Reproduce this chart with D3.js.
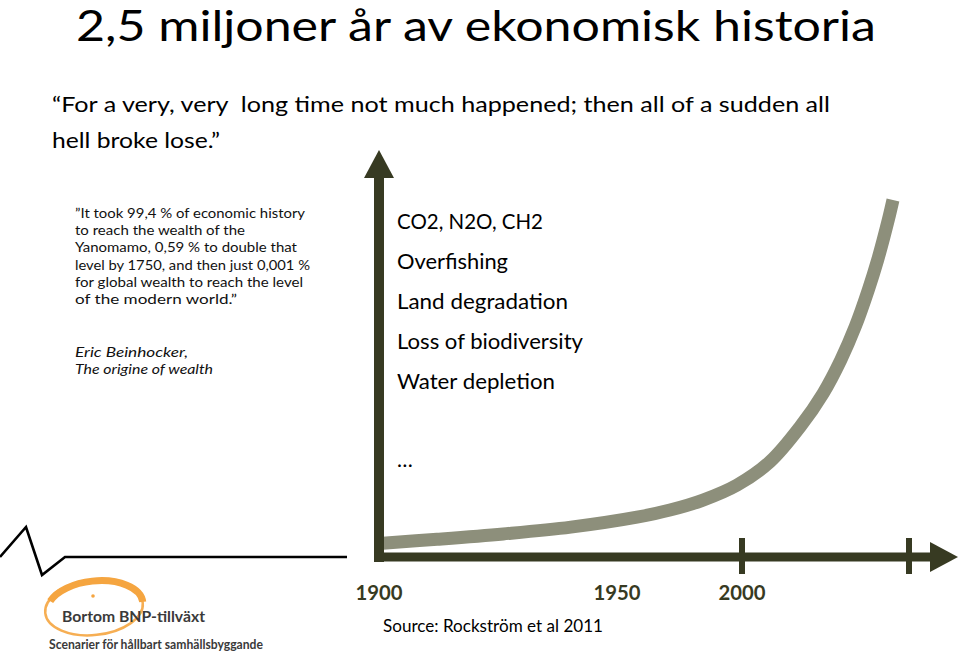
<!DOCTYPE html>
<html>
<head>
<meta charset="utf-8">
<script src="https://cdn.jsdelivr.net/npm/d3@7"></script>
<style>
  html, body { margin: 0; padding: 0; background: #ffffff; }
  svg { display: block; }
  text { font-family: Lato, "Open Sans", "Noto Sans", sans-serif; white-space: pre; }
</style>
</head>
<body>
<svg id="chart" width="960" height="653"></svg>
<script>
// ---------- data ----------
const title = "2,5 miljoner år av ekonomisk historia";
const subtitleLines = [
  "\u201CFor a very, very  long time not much happened; then all of a sudden all",
  "hell broke lose.\u201D"
];
const quoteLines = [
  "\u201DIt took 99,4 % of economic history",
  "to reach the wealth of the",
  "Yanomamo, 0,59 % to double that",
  "level by 1750, and then just 0,001 %",
  "for global wealth to reach the level",
  "of the modern world.\u201D"
];
const quoteAuthor = ["Eric Beinhocker,", "The origine of wealth"];
const impacts = ["CO2, N2O, CH2", "Overfishing", "Land degradation", "Loss of biodiversity", "Water depletion"];
const ellipsis = "\u2026";
const sourceText = "Source: Rockstr\u00F6m et al 2011";
const logoTitle = "Bortom BNP-tillv\u00E4xt";
const logoSub = "Scenarier f\u00F6r h\u00E5llbart samh\u00E4llsbyggande";

// axis (schematic, non-linear year axis)
const axisYears = [1900, 1950, 2000, 2050];
const tickLabels = ["1900", "1950", "2000"];
const tickMarkYears = [2000, 2050];

// the growth curve (schematic index, 0-100)
const curveYears  = [1900.8, 1912.2, 1926.1, 1940.3, 1958.0, 1971.2, 1984.4, 1998.0, 2008.4, 2017.4, 2024.3, 2029.6, 2033.9, 2037.8, 2040.6, 2043.8, 2045.2];
const curveValues = [3.6, 4.7, 6.2, 8.1, 10.9, 12.9, 15.7, 19.9, 26.5, 36.3, 45.7, 55.1, 64.4, 74.7, 83.1, 94.4, 100];

// ---------- drawing ----------
const svg = d3.select("#chart");
const axisColor = "#373a22";
const curveColor = "#8d8f7b";

const x = d3.scaleLinear().domain(axisYears).range([379, 617, 742, 909]);
const y = d3.scaleLinear().domain([0, 100]).range([556, 200]);

// title
svg.append("text").attr("x", 76).attr("y", 41)
  .attr("font-size", 42).attr("fill", "#000")
  .attr("textLength", 800).attr("lengthAdjust", "spacingAndGlyphs")
  .text(title);

// subtitle
const subW = [778, 168];
svg.selectAll("text.sub").data(subtitleLines).join("text")
  .attr("class", "sub")
  .attr("x", 52).attr("y", (d, i) => 112 + i * 35.5)
  .attr("font-size", 22).attr("fill", "#000")
  .attr("textLength", (d, i) => subW[i]).attr("lengthAdjust", "spacingAndGlyphs")
  .text(d => d);

// quote block
const qW = [230, 170, 222, 235, 228, 162];
svg.selectAll("text.q").data(quoteLines).join("text")
  .attr("class", "q")
  .attr("x", 75).attr("y", (d, i) => 218 + i * 17.2)
  .attr("font-size", 14).attr("fill", "#111")
  .attr("textLength", (d, i) => qW[i]).attr("lengthAdjust", "spacingAndGlyphs")
  .text(d => d);
const aW = [113, 138];
svg.selectAll("text.au").data(quoteAuthor).join("text")
  .attr("class", "au")
  .attr("x", 75).attr("y", (d, i) => 357 + i * 17.2)
  .attr("font-size", 14).attr("font-style", "italic").attr("fill", "#111")
  .attr("textLength", (d, i) => aW[i]).attr("lengthAdjust", "spacingAndGlyphs")
  .text(d => d);

// impacts list
const iW = [146, 111, 171, 186, 158];
svg.selectAll("text.imp").data(impacts).join("text")
  .attr("class", "imp")
  .attr("x", 397).attr("y", (d, i) => 229 + i * 40)
  .attr("font-size", 21).attr("fill", "#000")
  .attr("textLength", (d, i) => iW[i]).attr("lengthAdjust", "spacingAndGlyphs")
  .text(d => d);
svg.append("text").attr("x", 397).attr("y", 467)
  .attr("font-size", 21).attr("fill", "#000").text(ellipsis);

// curve
const line = d3.line()
  .x((d, i) => x(curveYears[i]))
  .y(d => y(d))
  .curve(d3.curveCatmullRom.alpha(0.5));
svg.append("path")
  .attr("d", line(curveValues))
  .attr("fill", "none")
  .attr("stroke", curveColor)
  .attr("stroke-width", 13)
  .attr("stroke-linecap", "butt");

// axes
const x0 = x(1900), yBase = y(0) + 1;
const g = svg.append("g").attr("fill", axisColor);
// y axis shaft + arrow
g.append("rect").attr("x", x0 - 5).attr("y", 176).attr("width", 10).attr("height", yBase + 5 - 176);
g.append("path").attr("d", `M${x0 - 15},178 L${x0 + 15},178 L${x0},150 Z`);
// x axis shaft + arrow
g.append("rect").attr("x", x0 - 5).attr("y", yBase - 4.5).attr("width", 932 - (x0 - 5)).attr("height", 9);
g.append("path").attr("d", `M930,${yBase - 15} L930,${yBase + 15} L958,${yBase} Z`);
// tick marks
g.selectAll("rect.tick").data(tickMarkYears).join("rect")
  .attr("class", "tick")
  .attr("x", d => x(d) - 3).attr("y", yBase - 19).attr("width", 6).attr("height", 36);
// tick labels
svg.selectAll("text.tl").data(tickLabels).join("text")
  .attr("class", "tl")
  .attr("x", d => x(+d)).attr("y", 600)
  .attr("text-anchor", "middle")
  .attr("font-family", "'Liberation Sans', Arial, sans-serif")
  .attr("font-weight", "bold").attr("font-size", 21)
  .attr("fill", axisColor)
  .attr("textLength", 47).attr("lengthAdjust", "spacingAndGlyphs")
  .text(d => d);

// source
svg.append("text").attr("x", 383).attr("y", 632)
  .attr("font-size", 17).attr("fill", "#000")
  .attr("textLength", 220).attr("lengthAdjust", "spacingAndGlyphs")
  .text(sourceText);

// zigzag decoration
svg.append("path")
  .attr("d", "M0,557 L26,527 L42,575 L65,557 L347,557")
  .attr("fill", "none").attr("stroke", "#000").attr("stroke-width", 2.6)
  .attr("stroke-linejoin", "miter");

// logo
const logo = svg.append("g");
logo.append("ellipse").attr("cx", 94).attr("cy", 608).attr("rx", 49).attr("ry", 27)
  .attr("transform", "rotate(-6 94 608)")
  .attr("fill", "none").attr("stroke", "#f5a540").attr("stroke-width", 2.5).attr("opacity", 0.9);
logo.append("ellipse").attr("cx", 95).attr("cy", 607).attr("rx", 48).attr("ry", 26)
  .attr("transform", "rotate(-6 95 607)")
  .attr("fill", "none").attr("stroke", "#f5a540").attr("stroke-width", 7)
  .attr("stroke-dasharray", "0 130 112 10");
logo.append("circle").attr("cx", 58).attr("cy", 591).attr("r", 1.5).attr("fill", "#f5a540");
logo.append("circle").attr("cx", 93).attr("cy", 596).attr("r", 1.8).attr("fill", "#f5a540");
logo.append("text").attr("x", 62).attr("y", 622)
  .attr("font-size", 16).attr("font-weight", "bold").attr("fill", "#3a3a3a")
  .attr("textLength", 143).attr("lengthAdjust", "spacingAndGlyphs")
  .text(logoTitle);
logo.append("text").attr("x", 49).attr("y", 649)
  .attr("font-size", 13).attr("font-weight", "bold").attr("fill", "#3a3a3a")
  .attr("textLength", 214).attr("lengthAdjust", "spacingAndGlyphs")
  .text(logoSub);
</script>
</body>
</html>
